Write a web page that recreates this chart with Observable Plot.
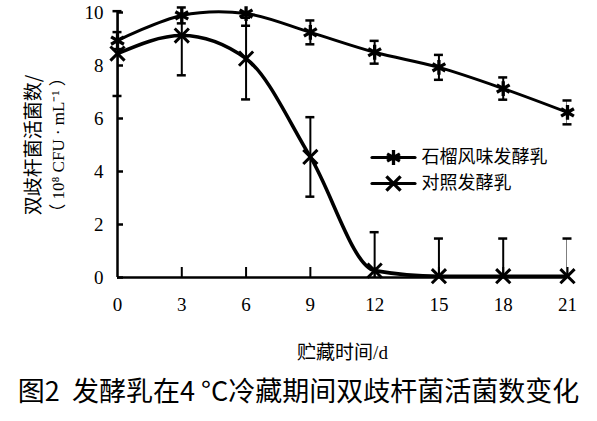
<!DOCTYPE html>
<html>
<head>
<meta charset="utf-8">
<script src="https://cdn.jsdelivr.net/npm/d3@7"></script>
<script src="https://cdn.jsdelivr.net/npm/@observablehq/plot@0.6"></script>
<style>
  body { margin: 0; background: #fff; }
  #chart { width: 597px; }
  #caption { width: 597px; text-align: center; font-family: "Noto Sans CJK SC", sans-serif; font-size: 27px; line-height: 30px; padding-top: 8px; color: #000; white-space: pre; }
</style>
</head>
<body>
<div id="chart"></div>
<div id="caption">图2  发酵乳在4 °C冷藏期间双歧杆菌活菌数变化</div>
<script>
const days = [0, 3, 6, 9, 12, 15, 18, 21];
const pomegranate = [8.94, 9.89, 9.96, 9.25, 8.50, 7.93, 7.13, 6.23];
const pomegranateSd = [0.32, 0.30, 0.46, 0.45, 0.43, 0.47, 0.42, 0.45];
const control = [8.45, 9.13, 8.26, 4.55, 0.26, 0.05, 0.05, 0.05];
const controlSd = [1.60, 1.50, 1.54, 1.50, 1.45, 1.42, 1.42, 1.42];
const seriesNames = ["石榴风味发酵乳", "对照发酵乳"];
const xTicks = [0, 3, 6, 9, 12, 15, 18, 21];
const yTicks = [0, 2, 4, 6, 8, 10];
const yLabel1 = "双歧杆菌活菌数/";
const yLabel2 = "（ 10⁸ CFU · mL⁻¹ ）";
const xLabel = "贮藏时间/d";

const pom = days.map((d, i) => ({day: d, v: pomegranate[i], lo: pomegranate[i] - pomegranateSd[i], hi: pomegranate[i] + pomegranateSd[i]}));
const ctl = days.map((d, i) => ({day: d, v: control[i], lo: control[i] - controlSd[i], hi: control[i] + controlSd[i]}));

const serif = "Liberation Serif, Noto Sans CJK SC, serif";
const cjk = "Noto Sans CJK SC, sans-serif";

function errorMarks(data) {
  return [
    Plot.ruleX(data, {x: "day", y1: "lo", y2: "hi", stroke: "black", strokeWidth: 2, clip: true}),
    Plot.ruleY(data, {filter: d => d.hi <= 10.3, y: "hi", x1: "day", x2: "day", insetLeft: -4.5, insetRight: -4.5, stroke: "black", strokeWidth: 2.5}),
    Plot.ruleY(data, {filter: d => d.lo >= 0, y: "lo", x1: "day", x2: "day", insetLeft: -4.5, insetRight: -4.5, stroke: "black", strokeWidth: 2.5})
  ];
}

const segShape = {draw(context, l) { context.moveTo(0, 0); context.lineTo(0, -l); }};
const symbols = ["asterisk", "times"];
const symR = [7, 6.5];
const legendMarks = seriesNames.flatMap((name, i) => [
  Plot.vector([name], {frameAnchor: "top-left", dx: 276, dy: 145 + i * 26, length: 43, rotate: 90, anchor: "middle", shape: segShape, stroke: "black", strokeWidth: 3.2}),
  Plot.dot([name], {frameAnchor: "top-left", dx: 276, dy: 145 + i * 26, symbol: symbols[i], r: symR[i], stroke: "black", strokeWidth: 3.3}),
  Plot.text([name], {frameAnchor: "top-left", dx: 304, dy: 145 + i * 26, text: d => d, textAnchor: "start", lineAnchor: "middle", fontSize: 18, fontFamily: cjk, fill: "black"})
]);

const chart = Plot.plot({
  width: 597,
  height: 367,
  marginLeft: 117,
  marginRight: 30,
  marginTop: 12,
  marginBottom: 90,
  style: {fontFamily: serif, fontSize: "19px", color: "black", background: "white"},
  x: {domain: [0, 21]},
  y: {domain: [0, 10]},
  marks: [
    ...errorMarks(pom),
    ...errorMarks(ctl),
    Plot.line(pom, {x: "day", y: "v", curve: "catmull-rom", stroke: "black", strokeWidth: 3}),
    Plot.line(ctl, {x: "day", y: "v", curve: "monotone-x", stroke: "black", strokeWidth: 3.6}),
    Plot.dot(pom, {x: "day", y: "v", symbol: "asterisk", r: 7, stroke: "black", strokeWidth: 3.3}),
    Plot.dot(ctl, {x: "day", y: "v", symbol: "times", r: 6.5, stroke: "black", strokeWidth: 3}),
    Plot.ruleX([0], {stroke: "black", strokeWidth: 2.5}),
    Plot.ruleY([0], {stroke: "black", strokeWidth: 2.5}),
    Plot.axisY({ticks: yTicks, tickSize: 6, dx: 6, tickFormat: () => "", label: null, strokeWidth: 2.5}),
    Plot.axisY({ticks: yTicks, tickSize: 0, tickPadding: 14, label: null, fontSize: 19, fontFamily: serif}),
    Plot.axisX({ticks: xTicks.filter(t => t > 0), tickSize: 10, dy: -10, tickFormat: () => "", label: null, strokeWidth: 2}),
    Plot.axisX({ticks: xTicks, tickSize: 0, tickPadding: 20, label: null, fontSize: 19, fontFamily: serif}),
    Plot.text([yLabel1], {frameAnchor: "left", dx: -84, rotate: -90, textAnchor: "middle", lineAnchor: "middle", text: d => d, fontSize: 19, fontFamily: cjk, fill: "black"}),
    Plot.text([yLabel2], {frameAnchor: "left", dx: -59, rotate: -90, textAnchor: "middle", lineAnchor: "middle", text: d => d, fontSize: 17, fontFamily: serif, fill: "black"}),
    Plot.text([xLabel], {frameAnchor: "bottom", dy: 75, lineAnchor: "middle", text: d => d, fontSize: 19, fontFamily: serif, fill: "black"}),
    ...legendMarks
  ]
});
document.getElementById("chart").appendChild(chart);
</script>
</body>
</html>
